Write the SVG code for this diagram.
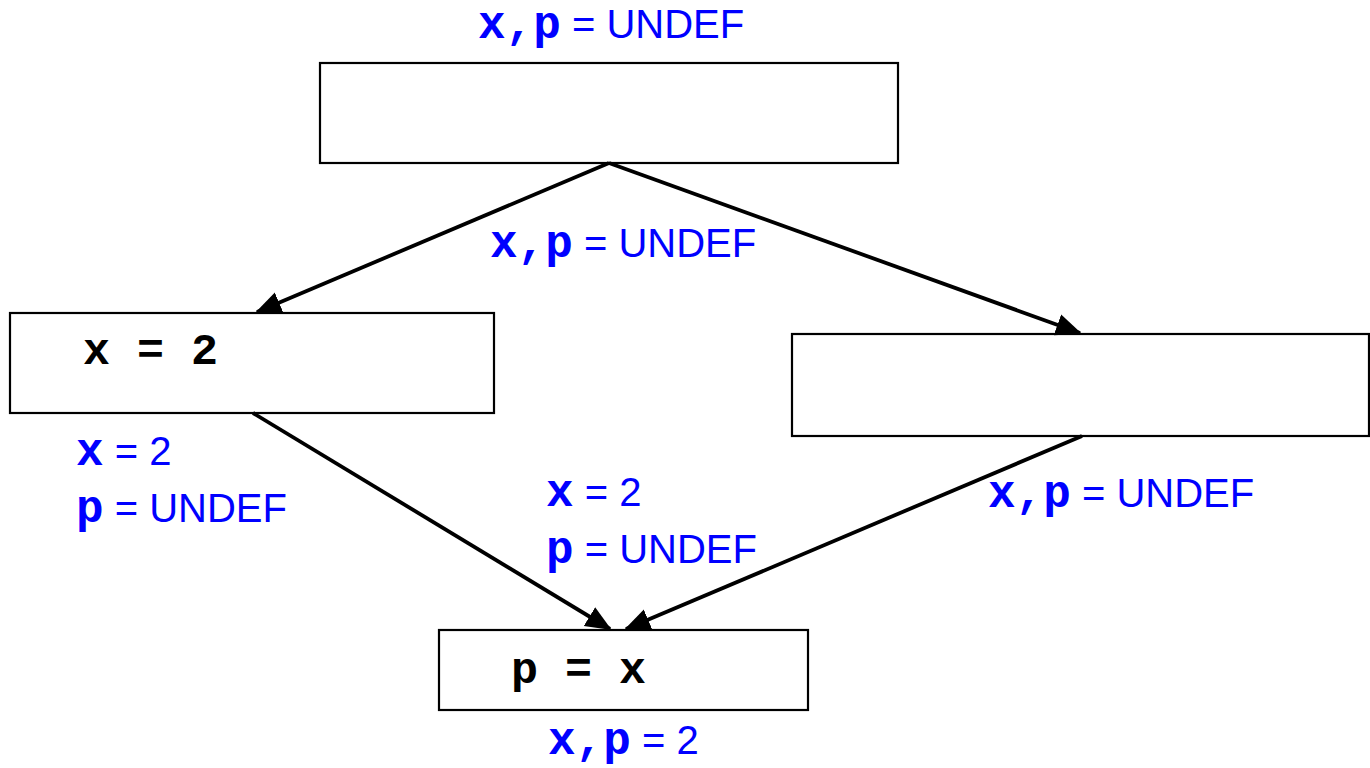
<svg xmlns="http://www.w3.org/2000/svg" width="1370" height="768" viewBox="0 0 1370 768">
<style>
.box{fill:#fff;stroke:#000;stroke-width:2.2}
.edge{stroke:#000;stroke-width:3.8;fill:none}
.code{font-family:"Liberation Mono","Courier New",monospace;font-weight:bold;font-size:45px;fill:#000}
.lbl{font-family:"Liberation Sans",Arial,sans-serif;font-size:40px;fill:#0000ff}
.m{font-family:"Liberation Mono","Courier New",monospace;font-weight:bold;font-size:46px}
</style>
<defs>
<marker id="ah" markerUnits="userSpaceOnUse" markerWidth="26" markerHeight="26" viewBox="0 0 26 26" refX="24" refY="13" orient="auto">
<path d="M0,2 L26,13 L0,24 Z" fill="#000"/>
</marker>
</defs>
<rect width="1370" height="768" fill="#fff"/>
<g id="n1"><rect class="box" x="320" y="63" width="578" height="100"/></g>
<g id="n2"><rect class="box" x="10" y="313" width="484" height="100"/><text class="code" x="83" y="364">x = 2</text></g>
<g id="n3"><rect class="box" x="792" y="334" width="577" height="102"/></g>
<g id="n4"><rect class="box" x="439" y="630" width="369" height="80"/><text class="code" x="511" y="683">p = x</text></g>
<g id="edges">
<line class="edge" x1="609" y1="163" x2="257" y2="312" marker-end="url(#ah)"/>
<line class="edge" x1="609" y1="163" x2="1080" y2="333" marker-end="url(#ah)"/>
<line class="edge" x1="253" y1="413" x2="610" y2="629" marker-end="url(#ah)"/>
<line class="edge" x1="1082" y1="436" x2="626" y2="629" marker-end="url(#ah)"/>
</g>
<g id="labels">
<text class="lbl" x="478" y="38"><tspan class="m">x,p</tspan> = UNDEF</text>
<text class="lbl" x="490" y="257"><tspan class="m">x,p</tspan> = UNDEF</text>
<text class="lbl" x="76" y="465"><tspan class="m">x</tspan> = 2</text>
<text class="lbl" x="76" y="522"><tspan class="m">p</tspan> = UNDEF</text>
<text class="lbl" x="546" y="506"><tspan class="m">x</tspan> = 2</text>
<text class="lbl" x="546" y="563"><tspan class="m">p</tspan> = UNDEF</text>
<text class="lbl" x="988" y="507"><tspan class="m">x,p</tspan> = UNDEF</text>
<text class="lbl" x="548" y="754"><tspan class="m">x,p</tspan> = 2</text>
</g>
</svg>
